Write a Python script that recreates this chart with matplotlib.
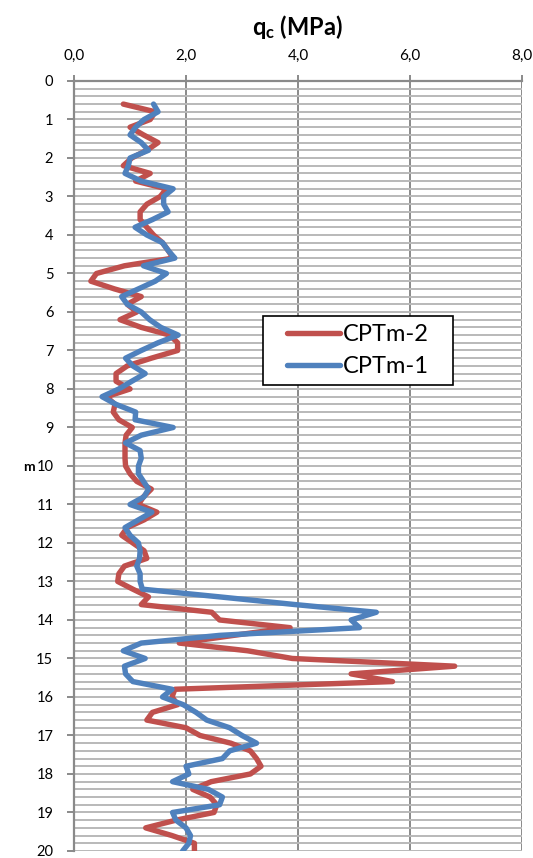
import matplotlib
matplotlib.use("Agg")
import matplotlib.pyplot as plt
from matplotlib.ticker import FuncFormatter
from matplotlib.patches import Rectangle
import numpy as np

plt.rcParams['font.family'] = ['Lato', 'DejaVu Sans']
plt.rcParams['mathtext.fontset'] = 'custom'
plt.rcParams['mathtext.rm'] = 'Lato'
plt.rcParams['mathtext.bf'] = 'Lato:bold'

# depth (m), one reading every 0.2 m
depth_2 = [0.6, 0.8, 1.0, 1.2, 1.4, 1.6, 1.8, 2.0, 2.2, 2.4, 2.6, 2.8, 3.0, 3.2, 3.4, 3.6, 3.8, 4.0,
           4.2, 4.4, 4.6, 4.8, 5.0, 5.2, 5.4, 5.6, 5.8, 6.0, 6.2, 6.4, 6.6, 6.8, 7.0, 7.2, 7.4, 7.6,
           7.8, 8.0, 8.2, 8.4, 8.6, 8.8, 9.0, 9.2, 9.4, 9.6, 9.8, 10.0, 10.2, 10.4, 10.6, 10.8, 11.0,
           11.2, 11.4, 11.6, 11.8, 12.0, 12.2, 12.4, 12.6, 12.8, 13.0, 13.2, 13.4, 13.6, 13.8, 14.0,
           14.2, 14.4, 14.6, 14.8, 15.0, 15.2, 15.4, 15.6, 15.8, 16.0, 16.2, 16.4, 16.6, 16.8, 17.0,
           17.2, 17.4, 17.6, 17.8, 18.0, 18.2, 18.4, 18.6, 18.8, 19.0, 19.2, 19.4, 19.6, 19.8, 20.0]
depth_1 = depth_2

# CPTm-2 qc (MPa)
qc_2 = [0.88, 1.45, 1.36, 1.0, 1.24, 1.5, 1.3, 1.03, 0.88, 1.36, 1.1, 1.65, 1.54, 1.3, 1.18, 1.18,
        1.3, 1.42, 1.58, 1.68, 1.77, 0.9, 0.4, 0.3, 0.72, 1.2, 0.95, 1.12, 0.82, 1.2, 1.71, 1.85,
        1.85, 1.38, 0.95, 0.75, 0.75, 1.0, 0.58, 0.73, 0.7, 0.8, 1.04, 0.93, 0.91, 0.91, 0.91, 0.92,
        1.0, 1.12, 1.38, 1.24, 1.15, 1.48, 1.25, 0.95, 0.85, 1.05, 1.25, 1.3, 0.9, 0.8, 0.78, 1.05,
        1.33, 1.2, 2.46, 2.6, 3.86, 2.85, 1.88, 3.1, 3.9, 6.8, 4.95, 5.69, 1.8, 1.75, 1.85, 1.4,
        1.3, 2.0, 2.25, 2.8, 3.15, 3.26, 3.34, 3.15, 2.45, 2.12, 2.43, 2.55, 2.5, 1.82, 1.28, 1.75,
        2.15, 2.15]

# CPTm-1 qc (MPa)
qc_1 = [1.42, 1.5, 1.25, 1.1, 1.0, 1.2, 1.33, 1.0, 0.97, 0.91, 1.2, 1.77, 1.6, 1.6, 1.68, 1.4,
        1.09, 1.3, 1.58, 1.68, 1.8, 1.24, 1.65, 1.45, 1.15, 0.85, 0.95, 1.2, 1.35, 1.55, 1.86, 1.5,
        1.2, 0.92, 1.05, 1.27, 1.03, 0.8, 0.5, 0.75, 1.1, 1.09, 1.77, 1.2, 0.92, 1.18, 1.2, 1.15,
        1.15, 1.24, 1.33, 1.25, 1.0, 1.39, 1.15, 0.91, 1.0, 1.15, 1.18, 1.17, 1.12, 1.18, 1.18, 1.22,
        2.6, 3.95, 5.4, 4.95, 5.1, 2.6, 1.2, 0.88, 1.27, 0.9, 0.92, 1.05, 1.75, 1.58, 1.95, 2.18,
        2.37, 2.78, 3.0, 3.26, 2.78, 2.65, 2.0, 2.05, 1.76, 2.4, 2.65, 2.6, 1.76, 1.82, 2.0, 2.08,
        2.05, 1.94]

fig = plt.figure(figsize=(5.33, 8.58), dpi=100)
ax = fig.add_axes([0.139, 0.0082, 0.840, 0.8974])

ax.plot(qc_2, depth_2, color='#C0504D', lw=3.9, solid_joinstyle='round',
        solid_capstyle='round', label='CPTm-2', zorder=3)
ax.plot(qc_1, depth_1, color='#4F81BD', lw=3.9, solid_joinstyle='round',
        solid_capstyle='round', label='CPTm-1', zorder=4)

ax.set_xlim(0, 8)
ax.set_ylim(20, 0)
ax.xaxis.tick_top()
ax.set_xticks(np.arange(0, 8.1, 2))
ax.set_yticks(np.arange(0, 21, 1))
ax.set_yticks(np.arange(0, 20.01, 0.2), minor=True)
ax.xaxis.set_major_formatter(FuncFormatter(lambda v, p: f"{v:.1f}".replace('.', ',')))

# gridlines
ax.grid(axis='y', which='both', color='#b9b9b9', lw=1.4, zorder=0)
ax.grid(axis='x', which='major', color='#8a8a8a', lw=1.4, zorder=1)
ax.set_axisbelow(True)

ax.tick_params(axis='y', which='minor', length=0)
ax.tick_params(axis='y', which='major', length=5, width=1.4, color='#8a8a8a',
               labelsize=10.5, pad=10)
ax.tick_params(axis='x', which='major', length=4, width=1.4, color='#8a8a8a',
               labelsize=11, pad=9)

for side in ['left', 'top']:
    ax.spines[side].set_color('#8a8a8a')
    ax.spines[side].set_linewidth(1.6)
for side in ['right', 'bottom']:
    ax.spines[side].set_visible(False)

fig.text(0.559, 0.969, r'$\mathbf{q_c}$ (MPa)', ha='center', va='center',
         fontsize=17, fontweight='bold')
fig.text(0.054, 0.4557, 'm', ha='center', va='center', fontsize=10, fontweight='bold')

# legend box (white with black frame), legend entries centred inside
ax.add_patch(Rectangle((0.422, 0.605), 0.424, 0.0896, transform=ax.transAxes,
                       facecolor='white', edgecolor='black', lw=1.2, zorder=5))
leg = ax.legend(loc='center', bbox_to_anchor=(0.634, 0.650), fontsize=17,
                handlelength=2.25, handletextpad=0.1, labelspacing=0.45,
                frameon=False, borderaxespad=0)
leg.set_zorder(6)

fig.savefig('out.png', dpi=100)
